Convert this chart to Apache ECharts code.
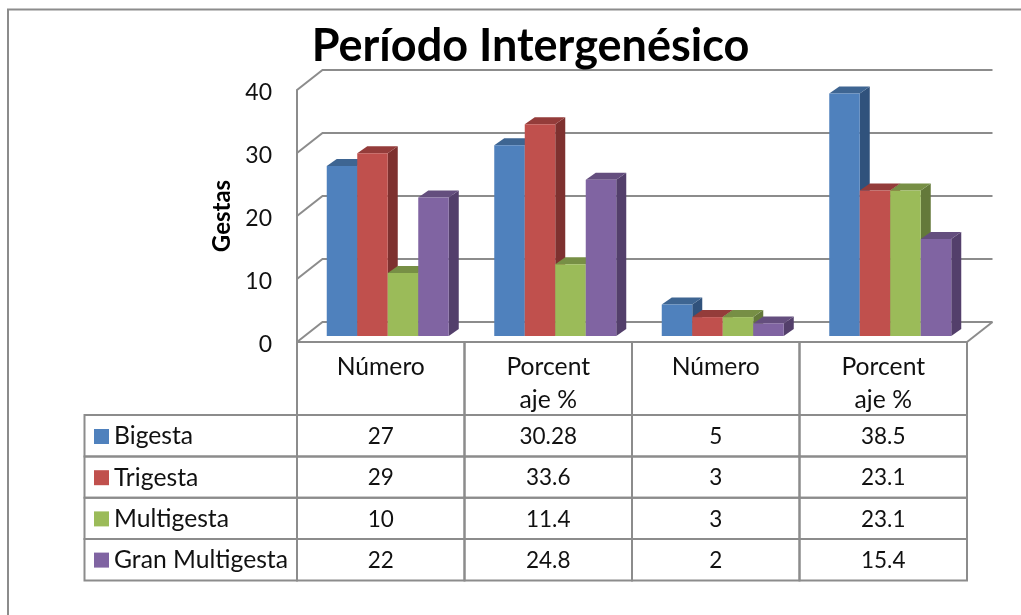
<!DOCTYPE html>
<html>
<head>
<meta charset="utf-8">
<style>
  html, body { margin: 0; padding: 0; background: #fff; }
  #chart { width: 1021px; height: 615px; }
</style>
<script src="https://cdn.jsdelivr.net/npm/echarts@6/dist/echarts.min.js"></script>
</head>
<body>
<div id="chart"></div>
<script>
const categories = ["Número", "Porcent\naje %", "Número", "Porcent\naje %"];
const seriesNames = ["Bigesta", "Trigesta", "Multigesta", "Gran Multigesta"];
const bigesta = [27, 30.28, 5, 38.5];
const trigesta = [29, 33.6, 3, 23.1];
const multigesta = [10, 11.4, 3, 23.1];
const granMultigesta = [22, 24.8, 2, 15.4];
const yTicks = [0, 10, 20, 30, 40];

const seriesValues = [bigesta, trigesta, multigesta, granMultigesta];
const frontColors = ["#4F81BD", "#C0504D", "#9BBB59", "#8064A2"];
const topColors = ["#3E6592", "#943C3A", "#778F45", "#644E7E"];
const sideColors = ["#30527C", "#7E312F", "#64793A", "#533F6B"];

const FONT = "Lato, 'Open Sans', sans-serif";
const LINE = "#8C8C8C";
// caja 3D: desplazamiento de la pared del fondo y de los bloques
const WALL_DX = 25.5, WALL_DY = -20;
const BAR_SHIFT_X = 7, BAR_SHIFT_Y = -6, BAR_W = 30.5, DEPTH_X = 10, DEPTH_Y = -7;
// filas de la tabla de datos
const headBottom = 415;
const rowTops = [415, 456.5, 497.7, 539, 580.5];
const tableLeft = 84.5;

function renderWall(params, api) {
  const rect = params.coordSys;
  const y = api.coord([0, api.value(0)])[1];
  const x0 = rect.x, x1 = rect.x + rect.width;
  const children = [{
    type: "polyline",
    shape: { points: [[x0, y], [x0 + WALL_DX, y + WALL_DY], [x1 + WALL_DX, y + WALL_DY]] },
    style: { fill: null, stroke: LINE, lineWidth: 2 }
  }];
  if (api.value(0) === 0) {
    children.push({
      type: "line",
      shape: { x1: x1, y1: y, x2: x1 + WALL_DX, y2: y + WALL_DY },
      style: { stroke: LINE, lineWidth: 2 }
    });
  }
  return { type: "group", children: children };
}

function renderBar(idx) {
  return function (params, api) {
    const cat = api.value(0);
    const top = api.coord([cat, api.value(1)]);
    const base = api.coord([cat, 0]);
    const x0 = top[0] + BAR_SHIFT_X + (idx - 2) * BAR_W;
    const x1 = x0 + BAR_W;
    const yt = top[1] + BAR_SHIFT_Y;
    const yb = base[1] + BAR_SHIFT_Y;
    return {
      type: "group",
      children: [
        {
          type: "polygon",
          shape: { points: [[x1, yt], [x1 + DEPTH_X, yt + DEPTH_Y], [x1 + DEPTH_X, yb + DEPTH_Y], [x1, yb]] },
          style: { fill: sideColors[idx] }
        },
        {
          type: "polygon",
          shape: { points: [[x0, yt], [x0 + DEPTH_X, yt + DEPTH_Y], [x1 + DEPTH_X, yt + DEPTH_Y], [x1, yt]] },
          style: { fill: topColors[idx] }
        },
        {
          type: "rect",
          shape: { x: x0, y: yt, width: BAR_W, height: yb - yt },
          style: { fill: frontColors[idx] }
        }
      ]
    };
  };
}

function renderTable(params, api) {
  const cat = api.value(0);
  const row = api.value(1);
  const band = api.size([1, 0])[0];
  const center = api.coord([cat, 0]);
  const x0 = center[0] - band / 2;
  const y0 = rowTops[row], y1 = rowTops[row + 1];
  const children = [
    {
      type: "rect",
      shape: { x: x0, y: y0, width: band, height: y1 - y0 },
      style: { fill: null, stroke: LINE, lineWidth: 2 }
    },
    {
      type: "text",
      style: {
        text: String(seriesValues[row][cat]),
        x: center[0], y: (y0 + y1) / 2 + 1,
        align: "center", verticalAlign: "middle",
        font: "22.5px " + FONT, fill: "#111"
      }
    }
  ];
  if (cat === 0) {
    children.unshift({
      type: "rect",
      shape: { x: tableLeft, y: y0, width: x0 - tableLeft, height: y1 - y0 },
      style: { fill: null, stroke: LINE, lineWidth: 2 }
    });
  }
  if (row === 0) {
    children.unshift({
      type: "rect",
      shape: { x: x0, y: center[1], width: band, height: headBottom - center[1] },
      style: { fill: null, stroke: LINE, lineWidth: 2 }
    });
  }
  return { type: "group", children: children };
}

const tableCells = [];
seriesValues.forEach((vals, row) => {
  vals.forEach((v, cat) => tableCells.push([cat, row]));
});

const chart = echarts.init(document.getElementById("chart"));
chart.setOption({
  animation: false,
  backgroundColor: "#fff",
  title: {
    text: "Período Intergenésico",
    left: 525.5,
    top: 19,
    textAlign: "center",
    textStyle: { fontFamily: FONT, fontSize: 45, fontWeight: "bold", color: "#000" }
  },
  legend: {
    data: seriesNames,
    orient: "vertical",
    left: 89,
    top: 419,
    itemWidth: 15,
    itemHeight: 15,
    itemGap: 16.2,
    icon: "rect",
    selectedMode: false,
    textStyle: { fontFamily: FONT, fontSize: 24.7, lineHeight: 24, color: "#111", padding: [0, 0, 0, 0] }
  },
  grid: { left: 297, right: 54, top: 90, bottom: 273 },
  xAxis: {
    type: "category",
    data: categories,
    axisLine: { show: true, lineStyle: { color: LINE, width: 2 } },
    axisTick: { show: false },
    axisLabel: {
      fontFamily: FONT, fontSize: 24.7, color: "#111",
      margin: 9, lineHeight: 33, interval: 0
    }
  },
  yAxis: {
    type: "value",
    min: 0,
    max: 40,
    interval: 10,
    name: "Gestas",
    nameLocation: "middle",
    nameGap: 63,
    nameRotate: 90,
    nameTextStyle: { fontFamily: FONT, fontSize: 24, fontWeight: "bold", color: "#000" },
    axisLine: { show: true, lineStyle: { color: LINE, width: 2 } },
    axisTick: { show: false },
    splitLine: { show: false },
    axisLabel: {
      fontFamily: FONT, color: "#111", margin: 25,
      formatter: "{t|{value}}",
      rich: { t: { fontFamily: FONT, fontSize: 23, color: "#111", padding: [6, 0, 0, 0] } }
    }
  },
  graphic: [{
    type: "polyline",
    silent: true,
    shape: { points: [[8, 615], [8, 9.5], [1021, 9.5]] },
    style: { fill: null, stroke: LINE, lineWidth: 2 }
  }],
  series: [
    {
      type: "custom",
      name: "paredes",
      renderItem: renderWall,
      clip: false,
      silent: true,
      z: 1,
      data: yTicks.map(t => [t])
    },
    {
      type: "custom",
      name: "tabla",
      renderItem: renderTable,
      clip: false,
      silent: true,
      z: 1,
      data: tableCells
    }
  ].concat(seriesNames.map((name, idx) => ({
    type: "custom",
    name: name,
    renderItem: renderBar(idx),
    clip: false,
    silent: true,
    z: 3,
    itemStyle: { color: frontColors[idx] },
    data: seriesValues[idx].map((v, i) => [i, v])
  })))
});
</script>
</body>
</html>
